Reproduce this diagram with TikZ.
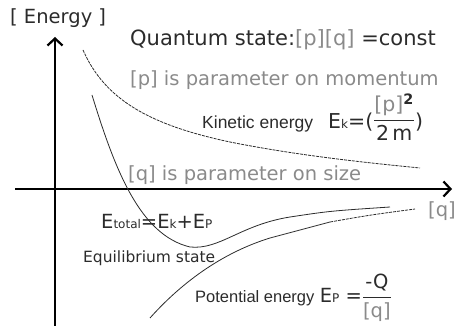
\documentclass[tikz,border=0pt]{standalone}
\usepackage{amsmath}
\usepackage{fontspec}
\setmainfont{DejaVu Sans}
\newfontfamily\arialfont{Liberation Sans}
\usetikzlibrary{positioning,arrows.meta}
\definecolor{cText}{HTML}{2B2B2B}
\definecolor{cGray}{HTML}{8A8A8A}
\tikzset{
  lbl/.style={inner sep=0pt, anchor=west, text=cText, font=\fontsize{19.5}{22}\selectfont},
  glbl/.style={lbl, text=cGray},
  albl/.style={lbl, anchor=base west, font=\arialfont\fontsize{16.5}{20}\selectfont},
  axis/.style={line width=2.6pt, -{Straight Barb[length=7pt,width=15pt,line width=2.2pt]}},
  crv/.style={line width=0.8pt, draw=cText},
  dcrv/.style={crv, dash pattern=on 3pt off 1pt},
}
\newcommand{\esub}[1]{{\fontsize{12}{14}\selectfont #1}}
\newcommand{\qfrac}[2]{$\displaystyle\genfrac{}{}{1.2pt}{}{\mbox{#1}}{\mbox{#2}}$}

\begin{document}
\begin{tikzpicture}[x=1pt, y=-1pt]
  \useasboundingbox (0,0) rectangle (456,326);
  % axes
  \coordinate (ybot) at (55,326);
  \coordinate (ytop) at (55,37);
  \coordinate (xl) at (15,189);
  \coordinate (xr) at (452,189);
  \draw[axis] (ybot) -- (ytop);
  \draw[axis] (xl) -- (xr);

  % texts
  \node[lbl] (energy) at (10,18) {[ Energy ]};
  \node[lbl, font=\fontsize{21}{24}\selectfont] (quantum) at (130,40)
    {Quantum state:\textcolor{cGray}{[p][q]} =const};
  \node[glbl] (pmom) at (130,80) {[p] is parameter on momentum};
  \node[albl, font=\arialfont\fontsize{17.5}{20}\selectfont] (kin) at (202,129) {Kinetic energy};
  \node[lbl, anchor=base west, font=\fontsize{20.5}{24}\selectfont] (ek) at (328,129)
    {E\esub{k}=(\raisebox{3pt}{\qfrac{\textcolor{cGray}{[p]}\textsuperscript{\textbf{2}}}{2\,m}})};
  \node[glbl] (qsize) at (128,175) {[q] is parameter on size};
  \node[glbl] (qaxis) at (428,211) {[q]};
  \node[lbl, anchor=base west] (etot) at (101,229) {E\esub{total}=E\esub{k}+E\esub{P}};
  \node[lbl, font=\fontsize{15.5}{18}\selectfont] (equil) at (83,258) {Equilibrium state};
  \node[albl] (pot) at (195,303) {Potential energy};
  \node[lbl, right=5pt of pot.base east, anchor=base west] (ep)
    {E\esub{P} =\qfrac{-Q}{\textcolor{cGray}{[q]}}};

  % curves
  \draw[dcrv] (83,50) .. controls (105,100) and (150,125) .. (230,142)
    .. controls (300,156) and (370,163) .. (420,168);
  \draw[crv] (92,95) .. controls (115,170) and (140,235) .. (190,247)
    .. controls (220,250) and (240,225) .. (290,217)
    .. controls (330,211) .. (390,207);
  \draw[crv] (150,318) .. controls (175,290) and (215,255) .. (270,238)
    .. controls (300,230) .. (330,222);
  \draw[dcrv] (330,222) .. controls (370,215) .. (415,209);
\end{tikzpicture}
\end{document}
